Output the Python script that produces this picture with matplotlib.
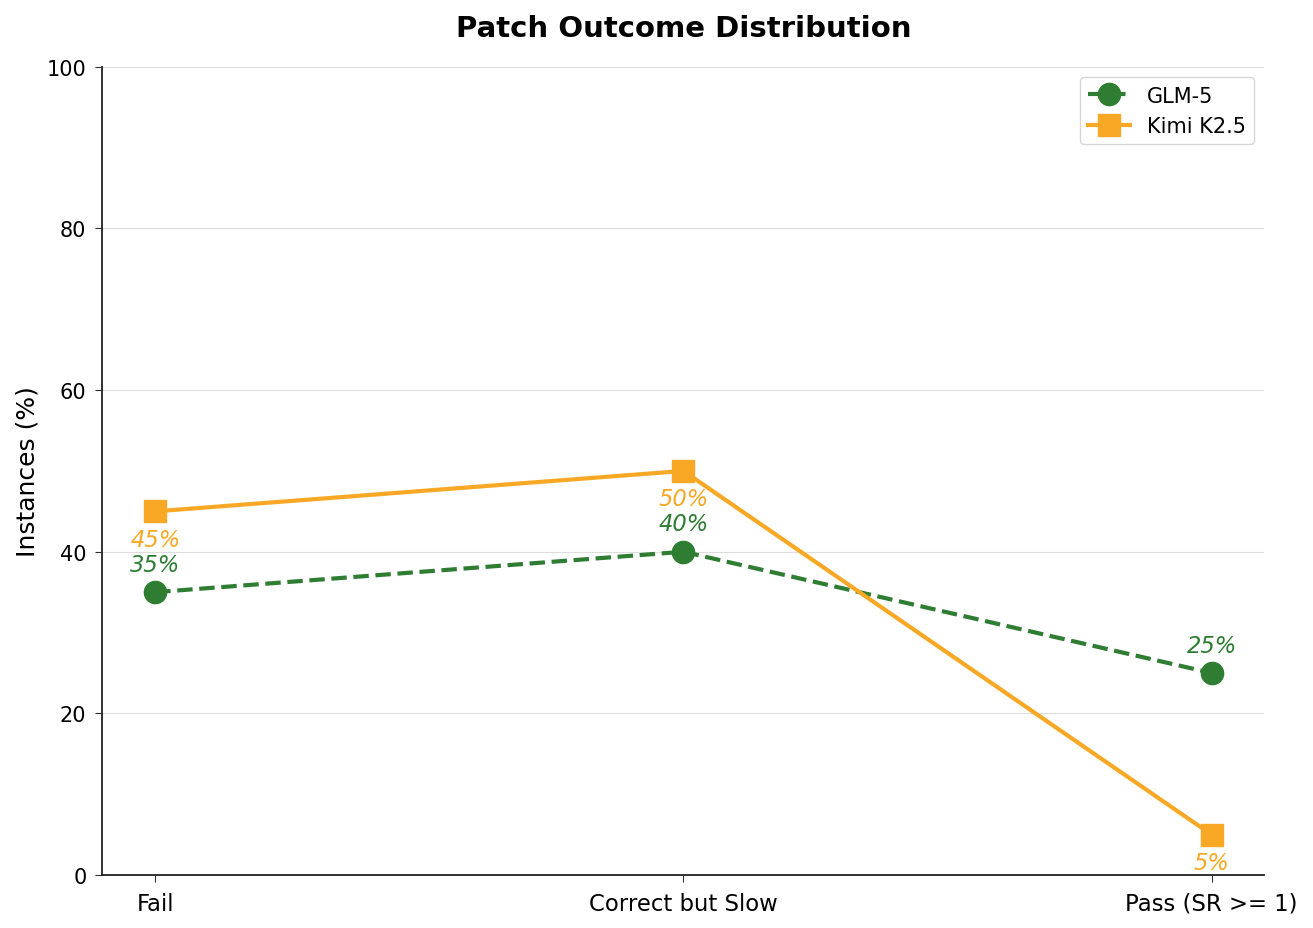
import matplotlib
matplotlib.use("Agg")
import matplotlib.pyplot as plt

categories = ["Fail", "Correct but Slow", "Pass (SR >= 1)"]
glm_values = [35, 40, 25]
kimi_values = [45, 50, 5]

green = "#2e7d32"
orange = "#f9a825"

fig, ax = plt.subplots(figsize=(13.13, 9.29), dpi=100)
x = range(len(categories))

ax.plot(x, glm_values, color=green, linestyle="--", linewidth=3, marker="o",
        markersize=16, label="GLM-5")
ax.plot(x, kimi_values, color=orange, linestyle="-", linewidth=3, marker="s",
        markersize=16, label="Kimi K2.5")

for i, v in enumerate(glm_values):
    ax.annotate(f"{v}%", (i, v), xytext=(0, 20), textcoords="offset points",
                ha="center", va="center", fontsize=16.3, style="italic", color=green)
for i, v in enumerate(kimi_values):
    ax.annotate(f"{v}%", (i, v), xytext=(0, -20), textcoords="offset points",
                ha="center", va="center", fontsize=16.3, style="italic", color=orange)

ax.set_xticks(list(x))
ax.set_xticklabels(categories, fontsize=16.4)
ax.tick_params(axis="x", pad=7, length=5, color="#333333")
ax.tick_params(axis="y", labelsize=15, length=5, pad=6.5, color="#333333")
ax.set_xlim(-0.1, 2.1)
ax.set_ylim(0, 100)
ax.set_ylabel("Instances (%)", fontsize=18, labelpad=5.5)
ax.set_title("Patch Outcome Distribution", fontsize=21, fontweight="bold", pad=22)
ax.grid(axis="y", color="#dddddd", linewidth=0.8)
ax.set_axisbelow(True)
ax.spines["top"].set_visible(False)
ax.spines["right"].set_visible(False)
for side in ("left", "bottom"):
    ax.spines[side].set_linewidth(1.3)
    ax.spines[side].set_color("#222222")
ax.legend(loc="upper right", fontsize=15)

fig.subplots_adjust(left=0.078, right=0.963, top=0.927, bottom=0.057)
fig.savefig("out.png", dpi=100)
